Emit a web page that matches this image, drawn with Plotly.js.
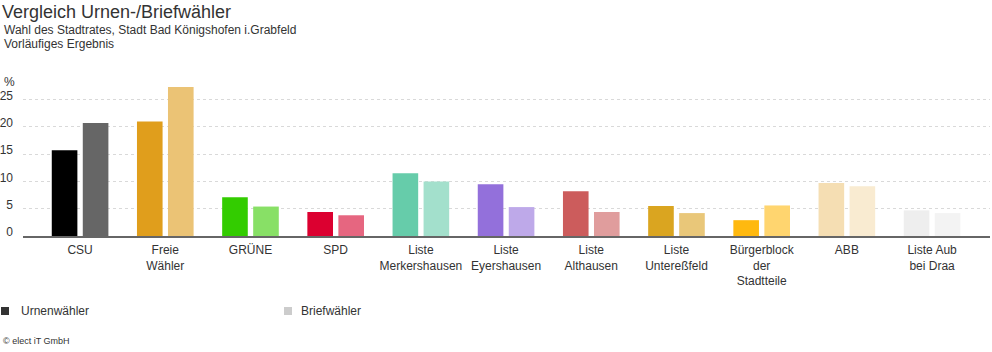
<!DOCTYPE html>
<html>
<head>
<meta charset="utf-8">
<script src="https://cdn.plot.ly/plotly-3.0.1.min.js"></script>
<style>html,body{margin:0;padding:0;background:#fff;}#chart{width:992px;height:352px;}</style>
</head>
<body>
<div id="chart"></div>
<script>
var categories = ["CSU","Freie<br>Wähler","GRÜNE","SPD","Liste<br>Merkershausen","Liste<br>Eyershausen","Liste<br>Althausen","Liste<br>Untereßfeld","Bürgerblock<br>der<br>Stadtteile","ABB","Liste Aub<br>bei Draa"];
var urnenwaehler = [15.7, 21.0, 7.1, 4.4, 11.5, 9.5, 8.2, 5.5, 2.9, 9.7, 4.7];
var briefwaehler = [20.7, 27.3, 5.4, 3.8, 10.0, 5.3, 4.4, 4.2, 5.6, 9.1, 4.2];
var urneColors = ["#000000","#E09E1C","#33CC00","#DC0030","#66CCAA","#9370DB","#CC5C5C","#DAA520","#FFB90F","#F5DEB3","#EEEEEE"];
var briefColors = ["#666666","#EBC375","#88E066","#E66680","#A3E0CC","#BEA9E9","#E09D9D","#E9C779","#FFD56F","#F9EBD1","#F3F3F3"];
var yTicks = [0, 5, 10, 15, 20, 25];
var seriesNames = ["Urnenwähler", "Briefwähler"];

var PL = 23, PR = 990, PT = 86, PB = 236;
function px(x){ return (x - PL) / (PR - PL); }
function py(y){ return (PB - y) / (PB - PT); }

var traces = [
  {type:'bar', x:categories, y:urnenwaehler, name:seriesNames[0], marker:{color:urneColors}, showlegend:false, hoverinfo:'x+y'},
  {type:'bar', x:categories, y:briefwaehler, name:seriesNames[1], marker:{color:briefColors}, showlegend:false, hoverinfo:'x+y'}
];

var font = 'Liberation Sans, Arial, sans-serif';
var layout = {
  width:992, height:352,
  margin:{l:PL, r:992-PR, t:PT, b:352-PB},
  paper_bgcolor:'#fff', plot_bgcolor:'#fff',
  font:{family:font, size:12, color:'#333'},
  barmode:'group', bargap:0.272, bargroupgap:0.174,
  showlegend:false,
  title:{text:'Vergleich Urnen-/Briefwähler', xref:'container', yref:'container', x:0.002, xanchor:'left', y:1-12/352, yanchor:'middle', font:{family:font, size:18, color:'#333'}, pad:{l:0,r:0,t:0,b:0}},
  xaxis:{type:'category', range:[-0.67, 10.68], showline:true, linecolor:'#666', linewidth:1.5, ticks:'', showgrid:false, zeroline:false, ticklabelstandoff:2, tickfont:{family:font, size:12, color:'#333'}, fixedrange:true},
  yaxis:{range:[0, 27.5], tickvals:yTicks, ticktext:yTicks.map(String), showgrid:true, gridcolor:'#d9d9d9', griddash:'3px,3px', zeroline:false, showline:false, ticks:'', ticklabelstandoff:9, ticklabelshift:-4, tickfont:{family:font, size:12, color:'#333'}, fixedrange:true},
  shapes:[
    {type:'rect', xref:'paper', yref:'paper', x0:px(1), x1:px(9), y0:py(315), y1:py(307), fillcolor:'#333', line:{width:0}},
    {type:'rect', xref:'paper', yref:'paper', x0:px(284), x1:px(292), y0:py(315), y1:py(307), fillcolor:'#ccc', line:{width:0}}
  ],
  annotations:[
    {text:'Wahl des Stadtrates, Stadt Bad Königshofen i.Grabfeld', xref:'paper', yref:'paper', x:px(2), y:py(30), xanchor:'left', yanchor:'middle', showarrow:false, font:{family:font, size:12, color:'#333'}},
    {text:'Vorläufiges Ergebnis', xref:'paper', yref:'paper', x:px(2), y:py(44), xanchor:'left', yanchor:'middle', showarrow:false, font:{family:font, size:12, color:'#333'}},
    {text:'%', xref:'paper', yref:'paper', x:px(2), y:py(82), xanchor:'left', yanchor:'middle', showarrow:false, font:{family:font, size:12, color:'#333'}},
    {text:seriesNames[0], xref:'paper', yref:'paper', x:px(19), y:py(311), xanchor:'left', yanchor:'middle', showarrow:false, font:{family:font, size:12, color:'#333'}},
    {text:seriesNames[1], xref:'paper', yref:'paper', x:px(299), y:py(311), xanchor:'left', yanchor:'middle', showarrow:false, font:{family:font, size:12, color:'#333'}},
    {text:'© elect iT GmbH', xref:'paper', yref:'paper', x:px(1), y:py(341), xanchor:'left', yanchor:'middle', showarrow:false, font:{family:font, size:9, color:'#333'}}
  ]
};

Plotly.newPlot('chart', traces, layout, {displayModeBar:false, staticPlot:false});
</script>
</body>
</html>
